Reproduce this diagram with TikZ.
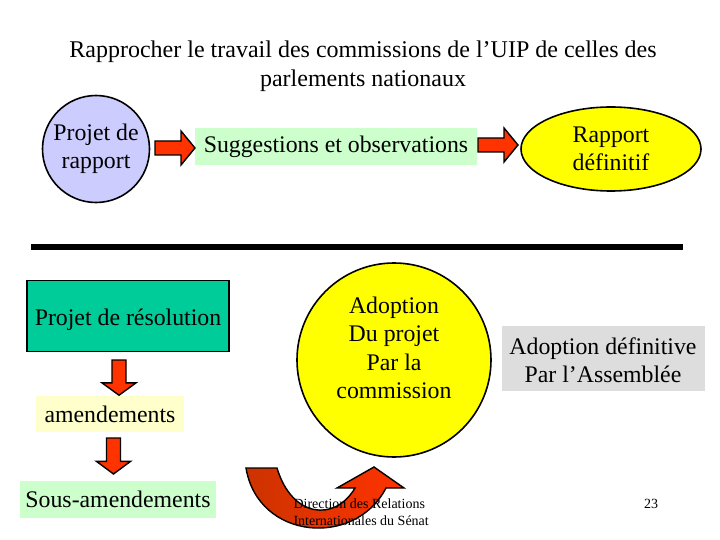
\documentclass[tikz,border=0pt]{standalone}
\usepackage{fontspec}
\setmainfont{Liberation Serif}
\usetikzlibrary{shapes.geometric}
\definecolor{lavender}{RGB}{204,204,255}
\definecolor{arrred}{RGB}{255,51,0}
\definecolor{darkarr}{RGB}{204,51,0}
\definecolor{lgreen}{RGB}{204,255,204}
\definecolor{lyellow}{RGB}{255,255,204}
\definecolor{yel}{RGB}{255,255,0}
\definecolor{teal2}{RGB}{0,204,153}
\definecolor{lgray}{RGB}{221,221,221}
\tikzset{
  big/.style={font=\fontsize{23.8}{28.5}\selectfont, align=center},
  bord/.style={draw=black, line width=1.6pt},
  flatbox/.style={rectangle, inner sep=0pt},
  rblock/.pic={\draw[fill=arrred, line width=1.4pt, line join=miter]
     (0,-7) -- (26,-7) -- (26,-17) -- (40,0) -- (26,17) -- (26,7) -- (0,7) -- cycle;},
}
\begin{document}
\begin{tikzpicture}[x=1pt,y=-1pt]
\useasboundingbox (0,0) rectangle (720,540);
\node[font=\fontsize{24}{29}\selectfont, align=center] (title) at (363,66)
  {Rapprocher le travail des commissions de l’UIP de celles des\\parlements nationaux};
% top row
\node[circle, bord, fill=lavender, minimum size=107pt, inner sep=0pt, big] (c1) at (96,149) {Projet de\\rapport};
\node[flatbox, fill=lgreen, minimum width=282pt, minimum height=37pt, big] (sug) at (336,147) {Suggestions et observations};
\node[ellipse, bord, fill=yel, minimum width=180pt, minimum height=84pt, inner sep=0pt, big] (def) at (611,149) {Rapport\\définitif};
\pic at (155,148) {rblock};
\pic at (478,145) {rblock};
% separator
\coordinate (sl) at (31,247);
\coordinate (sr) at (683,247);
\draw[line width=6pt] (sl) -- (sr);
% left column
\node[flatbox, bord, fill=teal2, minimum width=202pt, minimum height=71pt] (res) at (128,316) {};
\node[big] (restxt) at (res.center) [yshift=-4pt] {Projet de résolution};
\node[flatbox, fill=lyellow, minimum width=148pt, minimum height=36pt, big] (amd) at (110,414) {amendements};
\node[flatbox, fill=lgreen, minimum width=196pt, minimum height=37pt, big] (samd) at (118,499) {Sous-amendements};
\pic[rotate=-90, xscale=0.88] at (119,360) {rblock};
\pic[rotate=-90, xscale=0.9] at (113.5,438) {rblock};
% middle
\node[circle, bord, fill=yel, minimum size=194pt, inner sep=0pt] (adop) at (394,360) {};
\node[big] (adoptxt) at (394,348) {Adoption\\Du projet\\Par la\\commission};
\node[flatbox, fill=lgray, minimum width=203pt, minimum height=65pt] (assm) at (603,358) {};
\node[big] (assmtxt) at (assm.center) [yshift=-2pt] {Adoption définitive\\Par l’Assemblée};
% curved arrow
\shade[left color=darkarr, right color=arrred, draw=black, line width=1.4pt]
  (246,468) .. controls (258,540) and (355,548) .. (386,488)
  -- (404,488) -- (374,467) -- (337,488) -- (355,488)
  .. controls (335,522) and (292,518) .. (277,468) -- cycle;
\node[font=\fontsize{14}{17}\selectfont, align=left, anchor=west] (foot) at (290,512)
  {Direction des Relations\\Internationales du Sénat};
\node[font=\fontsize{14}{17}\selectfont] (pg) at (651,504) {23};
\end{tikzpicture}
\end{document}
